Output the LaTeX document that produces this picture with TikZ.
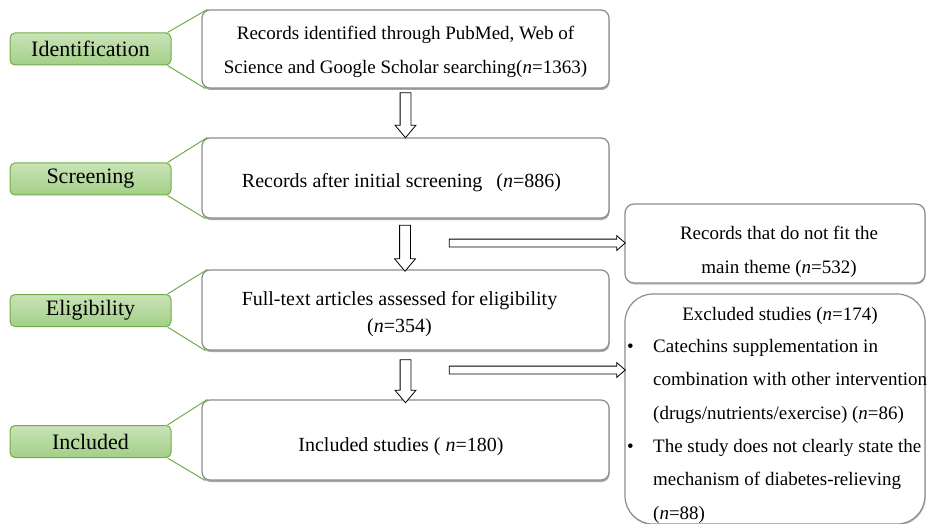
\documentclass[tikz,border=0pt]{standalone}
\usepackage{fontspec}
\setmainfont{Liberation Serif}
\usetikzlibrary{shapes.arrows,shadows,calc}
\definecolor{gborder}{HTML}{70AD47}
\definecolor{gtop}{HTML}{C9E3B8}
\definecolor{gbot}{HTML}{A2CF86}
\definecolor{bxborder}{HTML}{8C8C8C}
\begin{document}
\begin{tikzpicture}[x=1pt,y=-1pt,
  stage/.style={draw=gborder, line width=1pt, rounded corners=5pt, top color=gtop, bottom color=gbot,
    minimum width=161pt, minimum height=32pt, inner sep=0pt, font=\fontsize{22}{25}\selectfont},
  mainbox/.style={draw=bxborder, line width=1.2pt, rounded corners=8pt, fill=white,
    minimum width=407pt, inner sep=0pt, align=center,
    drop shadow={shadow xshift=0.6pt, shadow yshift=-2pt, fill=gray!75, opacity=0.9}},
  sidebox/.style={draw=bxborder, line width=1.2pt, fill=white, inner sep=0pt, align=center,
    drop shadow={shadow xshift=0.6pt, shadow yshift=-1.5pt, fill=gray!60, opacity=0.8}},
  gline/.style={draw=gborder, line width=1pt},
  darrow/.style={single arrow, draw=black, line width=0.8pt, fill=white, shape border rotate=270,
    inner sep=5pt, single arrow head extend=5pt, single arrow tip angle=80, minimum height=#1},
  rarrow/.style={single arrow, draw=black, line width=0.8pt, fill=white, shape border rotate=0,
    inner sep=3.5pt, single arrow head extend=3.5pt, single arrow tip angle=82, minimum height=#1}
]
\useasboundingbox (0,0) rectangle (927,524);

% stage labels
\node[stage] (l1) at (90.5,49) {Identification\hspace{5pt}};
\node[stage] (l2) at (90.5,179) {Screening\hspace{5pt}};
\node[stage] (l3) at (90.5,310.5) {Eligibility\hspace{5pt}};
\node[stage] (l4) at (90.5,441.5) {Included\hspace{5pt}};

% main boxes
\node[mainbox, minimum height=78pt, font=\fontsize{19}{34}\selectfont] (b1) at (405.5,49)
  {\rule{0pt}{20pt}Records identified through PubMed, Web of\\Science and Google Scholar searching(\textit{n}=1363)};
\node[mainbox, minimum height=80pt, font=\fontsize{20}{34}\selectfont] (b2) at (405.5,178)
  {\rule{0pt}{24pt}Records after initial screening\hspace{14pt}(\textit{n}=886)\hspace{8pt}};
\node[mainbox, minimum height=80pt, font=\fontsize{20}{27}\selectfont] (b3) at (405.5,310)
  {\rule{0pt}{22pt}Full-text articles assessed for eligibility\hspace*{12pt}\\(\textit{n}=354)\hspace*{12pt}};
\node[mainbox, minimum height=80pt, font=\fontsize{20}{34}\selectfont] (b4) at (405.5,440)
  {\rule{0pt}{28pt}Included studies ( \textit{n}=180)\hspace{9pt}};

% green connector lines
\draw[gline] ([xshift=-4pt]l1.north east) -- ([xshift=6pt]b1.north west);
\draw[gline] ([xshift=-4pt]l1.south east) -- ([xshift=4pt]b1.south west);
\draw[gline] ([xshift=-4pt]l2.north east) -- ([xshift=6pt]b2.north west);
\draw[gline] ([xshift=-4pt]l2.south east) -- ([xshift=4pt]b2.south west);
\draw[gline] ([xshift=-4pt]l3.north east) -- ([xshift=6pt]b3.north west);
\draw[gline] ([xshift=-4pt]l3.south east) -- ([xshift=4pt]b3.south west);
\draw[gline] ([xshift=-4pt]l4.north east) -- ([xshift=6pt]b4.north west);
\draw[gline] ([xshift=-4pt]l4.south east) -- ([xshift=4pt]b4.south west);

% side boxes
\node[sidebox, rounded corners=9pt, minimum width=300pt, minimum height=79pt,
  font=\fontsize{19}{34}\selectfont] (s1) at (775,243.5)
  {\rule{0pt}{31pt}\hspace*{8pt}Records that do not fit the\\\hspace*{8pt}main theme (\textit{n}=532)};
\node[sidebox, rounded corners=28pt, minimum width=300pt, minimum height=230pt] (s2) at (775,409) {};
\node[font=\fontsize{19}{20}\selectfont, anchor=base] (s2t) at (780,320) {Excluded studies (\textit{n}=174)};
\node[font=\fontsize{19}{33.4}\selectfont, align=left, anchor=north west, inner sep=0pt] (s2l) at (627,339)
  {\makebox[26pt][l]{\textbullet}Catechins supplementation in\\
   \hspace*{26pt}combination with other intervention\\
   \hspace*{26pt}(drugs/nutrients/exercise) (\textit{n}=86)\\
   \makebox[26pt][l]{\textbullet}The study does not clearly state the\\
   \hspace*{26pt}mechanism of diabetes-relieving\\
   \hspace*{26pt}(\textit{n}=88)};

% down arrows
\node[darrow=45pt] (a1) at ($(b1.south)!0.5!(b2.north)+(0,-1)$) {};
\node[darrow=46pt] (a2) at (405,245) {};
\node[darrow=43pt] (a3) at ($(b3.south)!0.5!(b4.north)+(0,3)$) {};

% right arrows
\node[rarrow=176pt] (r1) at (535,243) {};
\node[rarrow=176pt] (r2) at (535,370) {};
\end{tikzpicture}
\end{document}
